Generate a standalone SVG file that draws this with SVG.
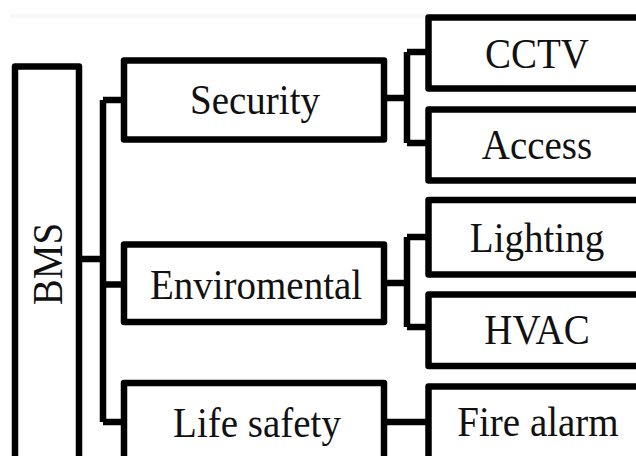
<svg xmlns="http://www.w3.org/2000/svg" width="636" height="456" viewBox="0 0 636 456">
<style>
.box{fill:#fff;stroke:#000;stroke-width:6.5;stroke-linejoin:round}
.con{fill:none;stroke:#000;stroke-width:6.5;stroke-linejoin:round}
.t{font-family:"Liberation Serif","Times New Roman",serif;font-size:39px;fill:#111;text-anchor:middle}
</style>
<rect x="0" y="0" width="636" height="456" fill="#fff"/>
<rect x="10" y="14" width="416" height="4" fill="#f7f7f7"/>
<g id="connectors">
<path class="con" d="M80,259 H103 M103,100 V422 M103,100 H123 M103,284.5 H123 M103,422 H123"/>
<path class="con" d="M385,98 H407 M407,52 V143 M407,52 H427 M407,143 H427"/>
<path class="con" d="M385,283 H407 M407,237 V327 M407,237 H427 M407,327 H427"/>
<path class="con" d="M385,422 H427"/>
</g>
<g id="bms"><rect class="box" x="15" y="66.5" width="64" height="410"/><text class="t" transform="translate(62,264) rotate(-90) scale(1,1.08)">BMS</text></g>
<g id="security"><rect class="box" x="124" y="60.5" width="260" height="79"/><text class="t" transform="translate(255,114) scale(1,1.1)">Security</text></g>
<g id="enviromental"><rect class="box" x="124" y="244.5" width="260" height="77.5"/><text class="t" transform="translate(256,299) scale(1,1.1)">Enviromental</text></g>
<g id="lifesafety"><rect class="box" x="124" y="383" width="260" height="90"/><text class="t" transform="translate(257,437) scale(1,1.1)">Life safety</text></g>
<g id="cctv"><rect class="box" x="428.5" y="17.5" width="240" height="71"/><text class="t" transform="translate(537,68) scale(1,1.1)">CCTV</text></g>
<g id="access"><rect class="box" x="428.5" y="109.5" width="240" height="71"/><text class="t" transform="translate(537,159) scale(1,1.1)">Access</text></g>
<g id="lighting"><rect class="box" x="428.5" y="200" width="240" height="74.5"/><text class="t" transform="translate(537,252) scale(1,1.1)">Lighting</text></g>
<g id="hvac"><rect class="box" x="428.5" y="294.5" width="240" height="71.5"/><text class="t" transform="translate(537,344) scale(1,1.1)">HVAC</text></g>
<g id="firealarm"><rect class="box" x="428.5" y="386.5" width="240" height="90"/><text class="t" transform="translate(538,436) scale(1,1.1)">Fire alarm</text></g>
</svg>
